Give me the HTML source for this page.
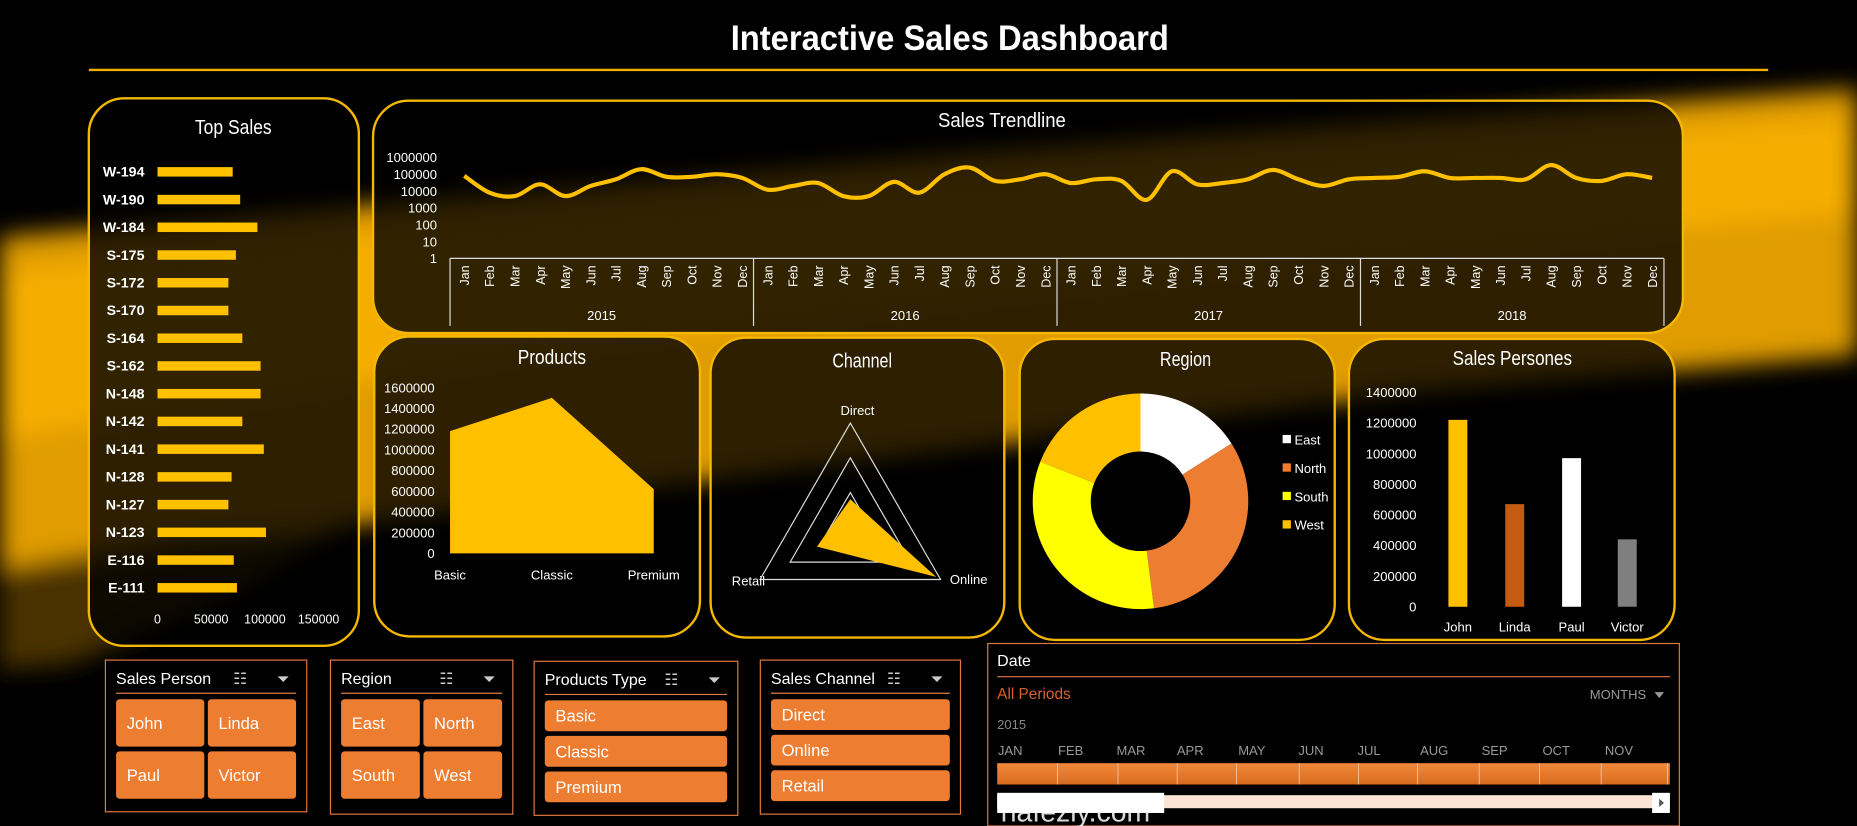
<!DOCTYPE html>
<html><head><meta charset="utf-8"><style>
html,body{margin:0;padding:0;background:#000;width:1857px;height:826px;overflow:hidden}
svg{display:block}
text{font-family:"Liberation Sans",sans-serif}
</style></head><body>
<svg id="s" width="1857" height="826" viewBox="0 0 1568 697" preserveAspectRatio="none" xmlns="http://www.w3.org/2000/svg">
<defs>
<filter id="bl" x="-20%" y="-20%" width="140%" height="140%"><feGaussianBlur stdDeviation="10"/></filter>
<linearGradient id="tl" x1="0" y1="0" x2="0" y2="1"><stop offset="0" stop-color="#f08a3c"/><stop offset="1" stop-color="#d96a1e"/></linearGradient>
</defs>
<rect width="1568" height="697" fill="#000"/>
<g filter="url(#bl)">
<polygon points="0,200 400,165 800,130 1200,100 1568,75 1568,300 1200,330 800,380 400,430 0,480" fill="#e09c00"/>
<polygon points="0,230 500,180 1000,140 1568,100 1568,180 1000,230 500,290 0,370" fill="#f5ad00"/>
<polygon points="0,480 150,470 300,440 200,500 60,560 0,565" fill="#4a3300"/>
</g>
<text x="802" y="42" text-anchor="middle" font-size="30" font-weight="bold" fill="#fff" textLength="370" lengthAdjust="spacingAndGlyphs">Interactive Sales Dashboard</text>
<line x1="75" y1="59" x2="1493" y2="59" stroke="#f0b000" stroke-width="2"/>

<g id="panels"></g>
<g id="charts"></g>
<g id="slicers"></g>
</svg>
<script>
const NS="http://www.w3.org/2000/svg";
function mk(parent,tag,attrs,txt){const e=document.createElementNS(NS,tag);for(const k in attrs)e.setAttribute(k,attrs[k]);if(txt!==undefined)e.textContent=txt;parent.appendChild(e);return e;}
const P=document.getElementById('panels'),C=document.getElementById('charts'),S=document.getElementById('slicers');

// panels
const panelList=[["top-sales-panel",75,83,228,462,"Top Sales",197,113],["trendline-panel",315,85,1106,196,"Sales Trendline",846,107],["products-panel",316,284,275,253,"Products",466,307],["channel-panel",600,285,248,253,"Channel",728,310],["region-panel",861,286,266,254,"Region",1001,309],["sales-persons-panel",1139,286,275,254,"Sales Persones",1277,308]];
panelList.forEach(p=>{
 const r=mk(P,'rect',{x:p[1],y:p[2],width:p[3],height:p[4],rx:30,fill:'rgba(0,0,0,0.8)',stroke:'#f5b800','stroke-width':2});
 
 
 const t=mk(P,'text',{x:p[6],y:p[7],'text-anchor':'middle','font-size':17,fill:'#fff',textLength:p[5].length*7.2,lengthAdjust:'spacingAndGlyphs'},p[5]);
 
 
});

// ---- Top Sales ----
const topCats=["W-194","W-190","W-184","S-175","S-172","S-170","S-164","S-162","N-148","N-142","N-141","N-128","N-127","N-123","E-116","E-111"];
const topVals=[70000,77000,93000,73000,66000,66000,79000,96000,96000,79000,99000,69000,66000,101000,71000,74000];
const topTicks=[0,50000,100000,150000];
(function(){
 const x0=133,k=136/150000,y0=145,dy=23.4;
 topCats.forEach((c,i)=>{
  const y=y0+i*dy;
  const t=mk(C,'text',{x:122,y:y+4,'text-anchor':'end','font-size':12,'font-weight':'bold',fill:'#fff'},c);
  
  
  const b=mk(C,'rect',{x:x0,y:y-4,width:topVals[i]*k,height:8,fill:'#ffc000'});
  
  
 });
 topTicks.forEach(v=>{
  const t=mk(C,'text',{x:x0+v*k,y:526,'text-anchor':'middle','font-size':10.5,fill:'#fff'},String(v));
  
  
 });
})();

// ---- Trendline ----
const months=["Jan","Feb","Mar","Apr","May","Jun","Jul","Aug","Sep","Oct","Nov","Dec"];
const years=["2015","2016","2017","2018"];
const trendVals=[80000,8000,5000,25000,5000,20000,50000,200000,70000,70000,100000,60000,
12000,20000,30000,5000,5000,35000,8000,100000,250000,40000,50000,100000,
30000,50000,40000,3000,150000,25000,30000,50000,180000,50000,20000,50000,
60000,70000,150000,60000,60000,60000,50000,350000,60000,40000,100000,60000];
const trendTicks=[1,10,100,1000,10000,100000,1000000];
(function(){
 const xs=i=>392+i*(1395-392)/47, ys=v=>218-Math.log10(v)*14.2;
 trendTicks.forEach(v=>{
  const t=mk(C,'text',{x:369,y:ys(v)+4,'text-anchor':'end','font-size':11,fill:'#fff'},String(v));
  
  
 });
 const pts=trendVals.map((v,i)=>[xs(i),ys(v)]);
 let d=`M${pts[0][0]},${pts[0][1]}`;
 for(let i=0;i<pts.length-1;i++){
  const p0=pts[Math.max(0,i-1)],p1=pts[i],p2=pts[i+1],p3=pts[Math.min(pts.length-1,i+2)];
  const c1=[p1[0]+(p2[0]-p0[0])/6,p1[1]+(p2[1]-p0[1])/6],c2=[p2[0]-(p3[0]-p1[0])/6,p2[1]-(p3[1]-p1[1])/6];
  d+=` C${c1[0]},${c1[1]} ${c2[0]},${c2[1]} ${p2[0]},${p2[1]}`;
 }
 const l=mk(C,'path',{d:d,fill:'none',stroke:'#ffc000','stroke-width':3.5});
 
 
 const ax=mk(C,'line',{x1:380,y1:218,x2:1405,y2:218,stroke:'#ddd','stroke-width':1});
 
 
 for(let y=0;y<=4;y++){
  const x=380+y*256.25;
  const s=mk(C,'line',{x1:x,y1:218,x2:x,y2:275,stroke:'#ddd','stroke-width':1});
  
  
 }
 years.forEach((yr,y)=>{
  const t=mk(C,'text',{x:380+y*256.25+128,y:270,'text-anchor':'middle','font-size':11,fill:'#fff'},yr);
  
  
  months.forEach((m,j)=>{
   const x=xs(y*12+j)+4;
   const mt=mk(C,'text',{x:x,y:224,'text-anchor':'end','font-size':10.5,fill:'#fff',transform:`rotate(-90 ${x} 224)`},m);
   
   
  });
 });
})();

// ---- Products ----
const prodCats=["Basic","Classic","Premium"];
const prodVals=[1180000,1500000,620000];
const prodTicks=[0,200000,400000,600000,800000,1000000,1200000,1400000,1600000];
(function(){
 const xs=[380,466,552],ys=v=>467-v*140/1600000;
 prodTicks.forEach(v=>{
  const t=mk(C,'text',{x:367,y:ys(v)+4,'text-anchor':'end','font-size':11,fill:'#fff'},String(v));
  
  
 });
 let pts=`${xs[0]},467 `+prodVals.map((v,i)=>`${xs[i]},${ys(v)}`).join(' ')+` ${xs[2]},467`;
 const a=mk(C,'polygon',{points:pts,fill:'#ffc000'});
 
 
 prodCats.forEach((c,i)=>{
  const t=mk(C,'text',{x:xs[i],y:489,'text-anchor':'middle','font-size':11,fill:'#fff'},c);
  
  
 });
})();

// ---- Channel radar ----
const chanCats=["Direct","Online","Retail"];
const chanVals=[0.27,0.95,0.37];
(function(){
 const cx=718,cy=445,R=88,ang=[-90,30,150];
 const pt=(a,r)=>[cx+r*Math.cos(a*Math.PI/180),cy+r*Math.sin(a*Math.PI/180)];
 [1,2/3,1/3].forEach(f=>{
  const g=mk(C,'polygon',{points:ang.map(a=>pt(a,R*f).join(',')).join(' '),fill:'none',stroke:'#ddd','stroke-width':1});
  
  
 });
 const d=mk(C,'polygon',{points:chanVals.map((v,i)=>pt(ang[i],R*v).join(',')).join(' '),fill:'#ffc000'});
 
 
 const lp=[[724,350,'middle'],[802,493,'start'],[646,494,'end']];
 chanCats.forEach((c,i)=>{
  const t=mk(C,'text',{x:lp[i][0],y:lp[i][1],'text-anchor':lp[i][2],'font-size':11,fill:'#fff'},c);
  
  
 });
})();

// ---- Region donut ----
const regCats=["East","North","South","West"];
const regVals=[0.16,0.32,0.33,0.19];
const regColors=["#ffffff","#ed7d31","#ffff00","#ffc000"];
(function(){
 const cx=963,cy=423,R=91,r=42;let a0=0;
 const tot=regVals.reduce((a,b)=>a+b,0);
 const p=(a,rr)=>[cx+rr*Math.sin(a*2*Math.PI),cy-rr*Math.cos(a*2*Math.PI)];
 regVals.forEach((v,i)=>{
  const a1=a0+v/tot,lg=(a1-a0)>0.5?1:0;
  const o0=p(a0,R),o1=p(a1,R),i1=p(a1,r),i0=p(a0,r);
  const s=mk(C,'path',{d:`M${o0} A${R},${R} 0 ${lg} 1 ${o1} L${i1} A${r},${r} 0 ${lg} 0 ${i0} Z`,fill:regColors[i]});
  
  
  a0=a1;
  const k=mk(C,'rect',{x:1083,y:371+i*24-4,width:7,height:7,fill:regColors[i]});
  
  
  const t=mk(C,'text',{x:1093,y:371+i*24+4,'font-size':11,fill:'#fff'},regCats[i]);
  
  
 });
})();

// ---- Sales persons ----
const spCats=["John","Linda","Paul","Victor"];
const spVals=[1220000,670000,970000,440000];
const spColors=["#ffc000","#c55a11","#ffffff","#7f7f7f"];
const spTicks=[0,200000,400000,600000,800000,1000000,1200000,1400000];
(function(){
 const ys=v=>512-v*181/1400000,xc=[1231,1279,1327,1374];
 spTicks.forEach(v=>{
  const t=mk(C,'text',{x:1196,y:ys(v)+4,'text-anchor':'end','font-size':11,fill:'#fff'},String(v));
  
  
 });
 spCats.forEach((c,i)=>{
  const b=mk(C,'rect',{x:xc[i]-8,y:ys(spVals[i]),width:16,height:512-ys(spVals[i]),fill:spColors[i]});
  
  
  const t=mk(C,'text',{x:xc[i],y:533,'text-anchor':'middle','font-size':11,fill:'#fff'},c);
  
  
 });
})();

// ---- Slicers ----
function slicer(name,title,x,y,w,h,items,cols,bh,gap){
 const r=mk(S,'rect',{x:x,y:y,width:w,height:h,fill:'#000',stroke:'#e07840','stroke-width':1});
 
 
 const t=mk(S,'text',{x:x+9,y:y+20,'font-size':13.5,fill:'#fff'},title);
 
 
 const ms=mk(S,'text',{x:x+w-62,y:y+20,'font-size':13,fill:'#ccc'},'☷');
 
 
 const cf=mk(S,'text',{x:x+w-25,y:y+20,'font-size':13,fill:'#ccc'},'⏷');
 
 
 mk(S,'line',{x1:x+9,y1:y+28,x2:x+w-9,y2:y+28,stroke:'#e07840','stroke-width':1});
 const bw=(w-18-(cols-1)*3)/cols;
 items.forEach((it,i)=>{
  const cx=x+9+(i%cols)*(bw+3),cy=y+33+Math.floor(i/cols)*(bh+gap);
  const b=mk(S,'rect',{x:cx,y:cy,width:bw,height:bh,rx:3,fill:'#ed7d31'});
  
  
  const tt=mk(S,'text',{x:cx+9,y:cy+bh/2+5,'font-size':14,fill:'#fff'},it);
  
  
 });
}
slicer('sales-person-slicer','Sales Person',89,557,170,128,["John","Linda","Paul","Victor"],2,40,4);
slicer('region-slicer','Region',279,557,154,130,["East","North","South","West"],2,40,4);
slicer('products-type-slicer','Products Type',451,558,172,130,["Basic","Classic","Premium"],1,26,4);
slicer('sales-channel-slicer','Sales Channel',642,557,169,130,["Direct","Online","Retail"],1,26,4);

// ---- Date timeline ----
(function(){
 const x=834,y=543,w=584,h=154;
 const r=mk(S,'rect',{x:x,y:y,width:w,height:h,fill:'#000',stroke:'#e07840','stroke-width':1});
 
 
 const t=mk(S,'text',{x:842,y:562,'font-size':13.5,fill:'#fff'},'Date');
 
 
 mk(S,'line',{x1:842,y1:571,x2:1410,y2:571,stroke:'#e07840','stroke-width':1});
 const ap=mk(S,'text',{x:842,y:590,'font-size':13,fill:'#d9622b'},'All Periods');
 
 
 const mo=mk(S,'text',{x:1390,y:590,'text-anchor':'end','font-size':11,fill:'#999'},'MONTHS');
 
 
 mk(S,'polygon',{points:'1397,584 1405,584 1401,589',fill:'#999'});
 mk(S,'text',{x:842,y:615,'font-size':11,fill:'#888'},'2015');
 const mlab=["JAN","FEB","MAR","APR","MAY","JUN","JUL","AUG","SEP","OCT","NOV"];
 const mx=[853,904,955,1005,1057,1107,1156,1211,1262,1314,1367];
 mlab.forEach((m,i)=>{
  const tt=mk(S,'text',{x:mx[i],y:637,'text-anchor':'middle','font-size':11,fill:'#999'},m);
  
  
 });
 const bar=mk(S,'rect',{x:842,y:644,width:568,height:18,fill:'url(#tl)'});
 
 
 [893,944,994,1044,1097,1147,1197,1249,1300,1352,1408].forEach(v=>mk(S,'line',{x1:v,y1:644,x2:v,y2:662,stroke:'#f7c8a8','stroke-width':0.7}));
 const sc=mk(S,'rect',{x:842,y:671,width:568,height:11,fill:'#fbe3d6'});
 
 
 const th=mk(S,'rect',{x:842,y:669,width:141,height:17,fill:'#fff'});
 
 
 mk(S,'rect',{x:1395,y:669,width:15,height:17,fill:'#fff'});
 mk(S,'polygon',{points:'1401,674 1405,677.5 1401,681',fill:'#555'});
})();

// watermark
(function(){
 const t=mk(S,'text',{x:845,y:693,'font-size':24,fill:'rgba(255,255,255,0.85)'},'nafezly.com');
 
 
})();
</script>
</body></html>
